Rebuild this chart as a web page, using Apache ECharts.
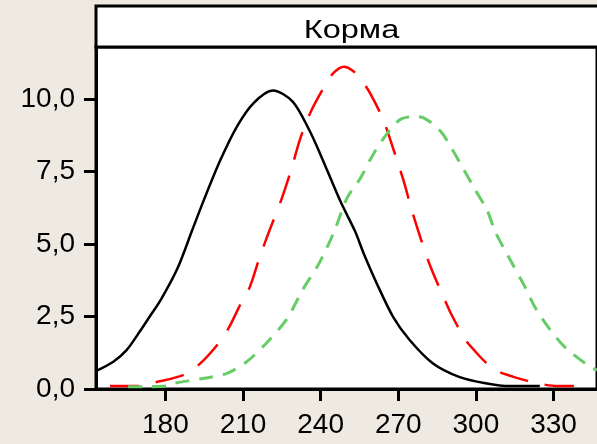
<!DOCTYPE html>
<html>
<head>
<meta charset="utf-8">
<script src="https://cdn.jsdelivr.net/npm/echarts@6/dist/echarts.min.js"></script>
<style>
html,body{margin:0;padding:0;background:#EEEAE1;}
#chart{width:597px;height:444px;}
</style>
</head>
<body>
<div id="chart"></div>
<script>
var panelTitle = "Корма";
var xTicks = [180, 210, 240, 270, 300, 330];
var yTicks = [0, 2.5, 5, 7.5, 10];

var blackX = [153.2, 159.9, 165, 170.1, 173.9, 178.4, 184.7, 190.4, 194.9, 201.3, 207.6, 214, 221.6, 229.2, 235.6, 240, 247.7, 253.4, 256.6, 261.7, 268, 274.4, 283.3, 293.5, 303.7, 313.2, 324.7];
var blackY = [0.62, 0.94, 1.34, 1.98, 2.49, 3.1, 4.16, 5.48, 6.52, 7.9, 9.04, 9.85, 10.29, 9.91, 8.93, 8.07, 6.46, 5.42, 4.68, 3.64, 2.49, 1.69, 0.89, 0.42, 0.2, 0.1, 0.1];

var redX = [158.6, 170, 177, 182, 187.9, 193.6, 200.6, 204.4, 209.5, 212.7, 216.5, 220.3, 224.8, 228.6, 232, 236.2, 241.8, 245, 249, 252, 255.3, 259.1, 264.2, 268, 272, 275.4, 279, 282.7, 287.7, 290.3, 296, 299.8, 304, 308.7, 314.5, 320, 325.3, 331.6, 339.2];
var redY = [0.1, 0.1, 0.25, 0.35, 0.52, 0.89, 1.58, 2.09, 3.01, 3.53, 4.56, 5.48, 6.52, 7.55, 8.6, 9.56, 10.48, 10.9, 11.11, 11.0, 10.71, 10.2, 9.28, 8.3, 7.2, 6.11, 5.1, 4.16, 3.13, 2.61, 1.69, 1.29, 0.9, 0.6, 0.42, 0.28, 0.17, 0.1, 0.1];

var greenX = [165.6, 172, 180.3, 183.4, 189, 194.9, 203.8, 211.4, 219, 226.7, 233, 239.4, 245.2, 250.2, 255.3, 259.8, 264.8, 270.6, 275.7, 280, 286.5, 291, 295.4, 299.8, 304.3, 307.5, 312.6, 318.9, 322.7, 327.8, 334.2, 343.1, 346.8];
var greenY = [0.08, 0.08, 0.1, 0.2, 0.28, 0.37, 0.54, 0.94, 1.58, 2.38, 3.41, 4.33, 5.42, 6.58, 7.26, 8.01, 8.7, 9.28, 9.39, 9.34, 8.87, 8.24, 7.55, 6.86, 6.17, 5.42, 4.56, 3.53, 2.84, 2.15, 1.46, 0.83, 0.65];

function pairs(xs, ys) { return xs.map(function (x, i) { return [x, ys[i]]; }); }

var chart = echarts.init(document.getElementById('chart'), null, {renderer: 'canvas'});
var FONT = '"Liberation Sans", Arial, sans-serif';
chart.setOption({
  animation: false,
  backgroundColor: '#EEEAE1',
  grid: {
    left: 96, right: -6, top: 47, bottom: 55,
    show: true, backgroundColor: '#FFFFFF', borderColor: '#000000', borderWidth: 3,
    containLabel: false
  },
  xAxis: {
    type: 'value', min: 153.2, max: 346.8,
    axisLine: {show: true, lineStyle: {color: '#000', width: 3}},
    axisTick: {show: true, length: 12, lineStyle: {color: '#000', width: 3}, customValues: xTicks},
    axisLabel: {show: true, margin: 22, fontFamily: FONT, fontSize: 28, color: '#000', customValues: xTicks,
      formatter: function (v) { return String(v); }},
    splitLine: {show: false}
  },
  yAxis: {
    type: 'value', min: 0, max: 11.79,
    axisLine: {show: true, lineStyle: {color: '#000', width: 3}},
    axisTick: {show: true, length: 12, lineStyle: {color: '#000', width: 3}, customValues: yTicks},
    axisLabel: {show: true, margin: 21, fontFamily: FONT, fontSize: 28, color: '#000', customValues: yTicks,
      formatter: function (v) { return v.toFixed(1).replace('.', ','); }},
    splitLine: {show: false}
  },
  graphic: [
    {type: 'rect', shape: {x: 96, y: 6, width: 540, height: 41},
     style: {fill: '#FFFFFF', stroke: '#000000', lineWidth: 3}, z: 10},
    {type: 'text', x: 351.5, y: 31, scaleX: 1.3, originX: 0, z: 11,
     style: {text: panelTitle, fontFamily: FONT, fontSize: 25, fill: '#000', align: 'center', verticalAlign: 'middle'}}
  ],
  series: [
    {type: 'line', data: pairs(blackX, blackY), showSymbol: false, smooth: 0.3,
     lineStyle: {color: '#000000', width: 2.5, type: 'solid'}, z: 3},
    {type: 'line', data: pairs(redX, redY), showSymbol: false, smooth: 0.3,
     lineStyle: {color: '#FF0000', width: 2.5, type: [29, 17]}, z: 4},
    {type: 'line', data: pairs(greenX, greenY), showSymbol: false, smooth: 0.3,
     lineStyle: {color: '#66CC66', width: 3, type: [14, 10]}, z: 5}
  ]
});
</script>
</body>
</html>
